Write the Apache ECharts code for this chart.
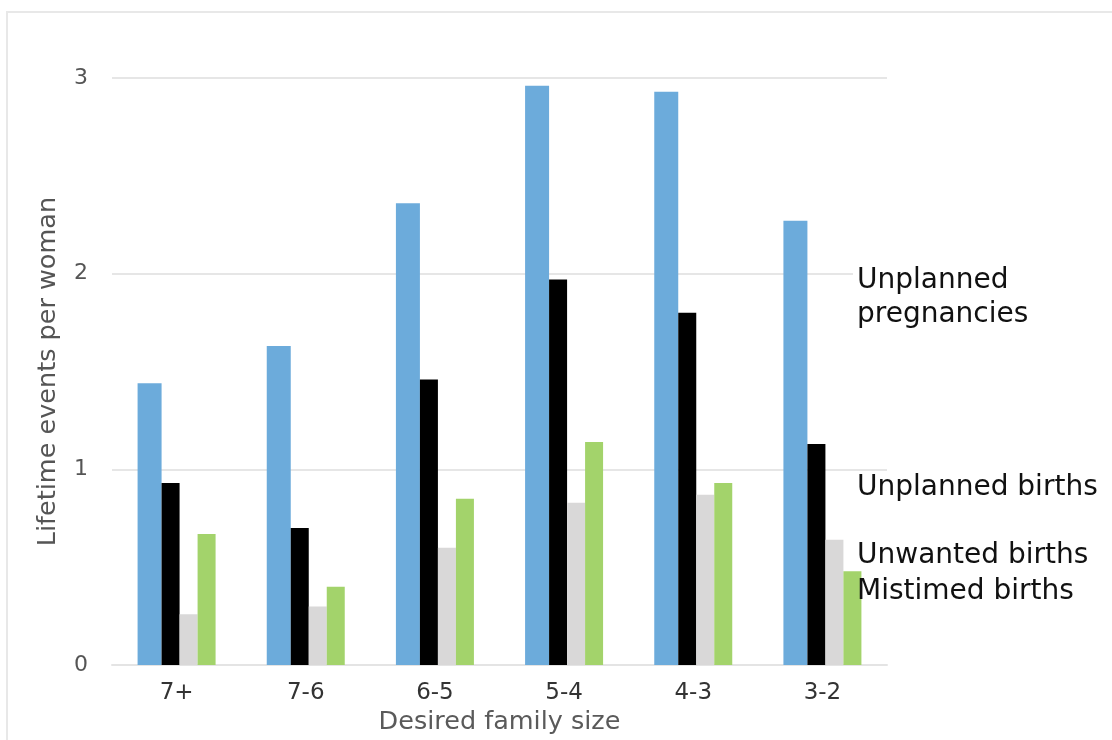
<!DOCTYPE html>
<html>
<head>
<meta charset="utf-8">
<script src="https://cdn.jsdelivr.net/npm/echarts@6/dist/echarts.min.js"></script>
<style>
html,body{margin:0;padding:0;background:#fff;}
#chart{width:1112px;height:740px;}
</style>
</head>
<body>
<div id="chart"></div>
<script>
const categories = ['7+', '7-6', '6-5', '5-4', '4-3', '3-2'];
const unplannedPregnancies = [1.44, 1.63, 2.36, 2.96, 2.93, 2.27];
const unplannedBirths = [0.93, 0.70, 1.46, 1.97, 1.80, 1.13];
const unwantedBirths = [0.26, 0.30, 0.60, 0.83, 0.87, 0.64];
const mistimedBirths = [0.67, 0.40, 0.85, 1.14, 0.93, 0.48];
const yTicks = [0, 1, 2, 3];

const chart = echarts.init(document.getElementById('chart'));
const FONT = 'DejaVu Sans';
function bar(name, data, color, width) {
  return {
    name: name, type: 'bar', data: data, barWidth: width, barGap: '0%',
    itemStyle: { color: color }, silent: true
  };
}
chart.setOption({
  animation: false,
  backgroundColor: '#ffffff',
  grid: { left: 112, right: 225, top: 78, bottom: 72 },
  xAxis: {
    type: 'category', data: categories,
    name: 'Desired family size', nameLocation: 'middle', nameGap: 43,
    nameTextStyle: { fontFamily: FONT, fontSize: 25.5, color: '#5a5a5a' },
    axisLine: { lineStyle: { color: '#e4e4e4', width: 2 } },
    axisTick: { show: false },
    axisLabel: { fontFamily: FONT, fontSize: 23, color: '#333333', margin: 16 }
  },
  yAxis: {
    type: 'value', min: yTicks[0], max: yTicks[yTicks.length - 1], interval: 1,
    name: 'Lifetime events per woman', nameLocation: 'middle', nameRotate: 90, nameGap: 51,
    nameTextStyle: { fontFamily: FONT, fontSize: 25.5, color: '#555555' },
    axisLine: { show: false }, axisTick: { show: false },
    axisLabel: { fontFamily: FONT, fontSize: 22, color: '#555555', margin: 24 },
    splitLine: { lineStyle: { color: '#e6e6e6', width: 2 } }
  },
  series: [
    bar('Unplanned pregnancies', unplannedPregnancies, '#6cabdb', 24),
    bar('Unplanned births', unplannedBirths, '#000000', 18),
    bar('Unwanted births', unwantedBirths, '#d9d8d8', 18),
    bar('Mistimed births', mistimedBirths, '#a3d36b', 18)
  ],
  graphic: [
    { type: 'rect', z: -1, shape: { x: 7, y: 12, width: 1200, height: 1000 },
      style: { fill: 'none', stroke: '#e8e8e8', lineWidth: 2 }, silent: true },
    { type: 'text', left: 853, top: 264, z: 100, style: { text: 'Unplanned\npregnancies', font: '28px "DejaVu Sans"', fill: '#111', lineHeight: 34, backgroundColor: '#ffffff', padding: [0, 0, 0, 4] } },
    { type: 'text', left: 857, top: 474, z: 100, style: { text: 'Unplanned births', font: '28px "DejaVu Sans"', fill: '#111' } },
    { type: 'text', left: 857, top: 542, z: 100, style: { text: 'Unwanted births', font: '28px "DejaVu Sans"', fill: '#111' } },
    { type: 'text', left: 857, top: 578, z: 100, style: { text: 'Mistimed births', font: '28px "DejaVu Sans"', fill: '#111' } }
  ]
});
</script>
</body>
</html>
